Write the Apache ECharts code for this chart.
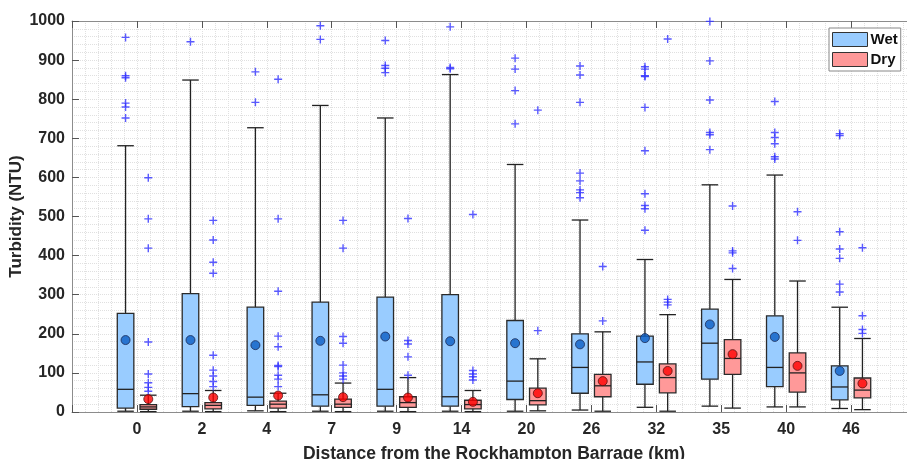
<!DOCTYPE html>
<html>
<head>
<meta charset="utf-8">
<script src="https://cdn.jsdelivr.net/npm/echarts@6/dist/echarts.min.js"></script>
<style>
  html, body { margin: 0; padding: 0; background: #fff; }
  #chart { width: 907px; height: 459px; }
</style>
</head>
<body>
<div id="chart"></div>
<script>
// distance categories (km)
const distances = ['0', '2', '4', '7', '9', '14', '20', '26', '32', '35', '40', '46']

// box stats: [lower whisker, q1, median, q3, upper whisker]
const wetBox = [
  [2, 10, 58, 252, 681], [2, 14, 47, 303, 849], [3, 17, 38, 268, 727], [2, 15, 44, 281, 784],
  [2, 15, 58, 294, 752], [2, 15, 39, 300, 863], [2, 32, 79, 234, 633], [5, 48, 114, 200, 491],
  [12, 71, 128, 194, 390], [15, 84, 176, 263, 581], [13, 65, 114, 246, 606], [9, 31, 64, 118, 268]
]
const dryBox = [
  [1, 7, 13, 19, 43], [1, 8, 17, 24, 55], [1, 10, 20, 28, 48], [1, 12, 20, 33, 74],
  [1, 12, 24, 39, 88], [1, 8, 19, 30, 55], [3, 18, 29, 61, 136], [2, 39, 67, 96, 205],
  [2, 49, 88, 123, 249], [10, 96, 137, 185, 339], [13, 51, 100, 151, 335], [6, 36, 56, 87, 188]
]

const wetMean = [184, 184, 171, 182, 193, 181, 176, 173, 189, 224, 192, 105]
const dryMean = [33, 37, 42, 38, 37, 26, 48, 79, 105, 148, 118, 73]

const wetOutliers = [
  [958, 860, 855, 790, 780, 752],
  [947],
  [870, 792],
  [988, 953],
  [950, 886, 879, 868],
  [985, 881, 878],
  [905, 877, 822, 737],
  [885, 862, 792, 611, 591, 568, 561, 548],
  [883, 877, 860, 858, 779, 668, 558, 528, 520, 465],
  [999, 898, 798, 715, 709, 671],
  [794, 715, 702, 686, 653, 647],
  [712, 707, 461, 417, 393, 327, 307]
]
const dryOutliers = [
  [599, 494, 419, 179, 97, 75, 63, 53],
  [490, 440, 383, 355, 145, 107, 92, 78, 65],
  [851, 494, 309, 194, 167, 119, 116, 94, 84, 65],
  [490, 419, 193, 176, 120, 100, 92, 84],
  [495, 183, 174, 141, 94],
  [505, 106, 97, 90, 82],
  [772, 208],
  [372, 233],
  [954, 288, 281, 274],
  [527, 412, 407, 367],
  [512, 439],
  [420, 246, 211, 201]
]

const WET_FILL = '#99ccff'
const DRY_FILL = '#ff9999'
const SHIFT = 0.175
const BOX_W = 0.255
const FONT = "'Liberation Sans', Arial, sans-serif"
const PLUS = 'path://M-0.7,-4 L0.7,-4 L0.7,-0.7 L4,-0.7 L4,0.7 L0.7,0.7 L0.7,4 L-0.7,4 L-0.7,0.7 L-4,0.7 L-4,-0.7 L-0.7,-0.7 Z'

const boxRenderer = (shift, fill) => (params, api) => {
  const x = api.value(0) + shift
  const [cx, yLo] = api.coord([x, api.value(1)])
  const yQ1 = api.coord([x, api.value(2)])[1]
  const yMed = api.coord([x, api.value(3)])[1]
  const yQ3 = api.coord([x, api.value(4)])[1]
  const yHi = api.coord([x, api.value(5)])[1]
  const w = api.size([BOX_W, 0])[0]
  const line = (x1, y1, x2, y2) => ({
    type: 'line',
    shape: { x1, y1, x2, y2 },
    style: { stroke: '#222', lineWidth: 1.3 }
  })
  return {
    type: 'group',
    children: [
      line(cx, yHi, cx, yQ3),
      line(cx, yQ1, cx, yLo),
      line(cx - w / 2, yHi, cx + w / 2, yHi),
      line(cx - w / 2, yLo, cx + w / 2, yLo),
      {
        type: 'rect',
        shape: { x: cx - w / 2, y: yQ3, width: w, height: yQ1 - yQ3 },
        style: { fill, stroke: '#2a2a2a', lineWidth: 1.3 }
      },
      line(cx - w / 2, yMed, cx + w / 2, yMed)
    ]
  }
}

const outlierPoints = (list, shift) =>
  list.flatMap((vals, i) => vals.map(v => [i + shift, v]))

const gridLine = { color: '#e0e0e0', type: 'dotted', width: 1 }

const chart = echarts.init(document.getElementById('chart'))

chart.setOption({
  animation: false,
  grid: { left: 72, right: -9, top: 21, bottom: 47, outerBoundsMode: 'none', containLabel: false },
  legend: {
    orient: 'vertical',
    left: 829,
    top: 28,
    padding: [4, 3, 4, 3],
    itemGap: 5,
    itemWidth: 35,
    itemHeight: 14,
    selectedMode: false,
    backgroundColor: '#fff',
    borderColor: '#888',
    borderWidth: 1,
    borderRadius: 0,
    textStyle: { fontFamily: FONT, fontWeight: 'bold', fontSize: 15, color: '#111', padding: [0, 0, 0, -2] },
    data: [
      { name: 'Wet', icon: 'rect', itemStyle: { color: WET_FILL, borderColor: '#333', borderWidth: 1 } },
      { name: 'Dry', icon: 'rect', itemStyle: { color: DRY_FILL, borderColor: '#333', borderWidth: 1 } }
    ]
  },
  xAxis: [
    {
      type: 'value',
      min: -1,
      max: 12,
      interval: 1,
      name: 'Distance from the Rockhampton Barrage (km)',
      nameLocation: 'middle',
      nameGap: 33,
      nameMoveOverlap: false,
      nameTextStyle: { fontFamily: FONT, fontWeight: 'bold', fontSize: 17.5, color: '#262626' },
      axisLine: { show: true, onZero: false, lineStyle: { color: '#8c8c8c', width: 1 } },
      axisTick: { inside: true, length: 7, lineStyle: { color: '#555' } },
      axisLabel: {
        formatter: v => distances[v] ?? '',
        fontFamily: FONT, fontWeight: 'bold', fontSize: 16, color: '#262626', margin: 10
      },
      splitLine: { show: true, lineStyle: gridLine },
      minorTick: { show: false, splitNumber: 5 },
      minorSplitLine: { show: true, lineStyle: gridLine }
    },
    {
      type: 'value',
      position: 'top',
      min: -1,
      max: 12,
      interval: 1,
      axisLine: { show: true, onZero: false, lineStyle: { color: '#8c8c8c', width: 1 } },
      axisTick: { inside: true, length: 7, lineStyle: { color: '#555' } },
      axisLabel: { show: false },
      splitLine: { show: false }
    }
  ],
  yAxis: {
    type: 'value',
    min: 0,
    max: 1000,
    interval: 100,
    name: 'Turbidity (NTU)',
    nameLocation: 'middle',
    nameGap: 47,
    nameMoveOverlap: false,
    nameTextStyle: { fontFamily: FONT, fontWeight: 'bold', fontSize: 17, color: '#262626' },
    axisLine: { show: true, onZero: false, lineStyle: { color: '#8c8c8c', width: 1 } },
    axisTick: { show: true, inside: true, length: 7, lineStyle: { color: '#555' } },
    axisLabel: {
      formatter: v => String(v),
      fontFamily: FONT, fontWeight: 'bold', fontSize: 16, color: '#262626', margin: 7
    },
    splitLine: { show: true, lineStyle: gridLine },
    minorTick: { show: false, splitNumber: 5 },
    minorSplitLine: { show: true, lineStyle: gridLine }
  },
  series: [
    {
      name: 'Wet',
      type: 'custom',
      itemStyle: { color: WET_FILL },
      renderItem: boxRenderer(-SHIFT, WET_FILL),
      encode: { x: 0, y: [1, 2, 3, 4, 5] },
      data: wetBox.map((b, i) => [i, ...b]),
      z: 2
    },
    {
      name: 'Dry',
      type: 'custom',
      itemStyle: { color: DRY_FILL },
      renderItem: boxRenderer(SHIFT, DRY_FILL),
      encode: { x: 0, y: [1, 2, 3, 4, 5] },
      data: dryBox.map((b, i) => [i, ...b]),
      z: 2
    },
    {
      name: 'Wet outliers',
      type: 'scatter',
      symbol: PLUS,
      symbolSize: 8,
      itemStyle: { color: '#2f2fff' },
      data: outlierPoints(wetOutliers, -SHIFT),
      z: 3
    },
    {
      name: 'Dry outliers',
      type: 'scatter',
      symbol: PLUS,
      symbolSize: 8,
      itemStyle: { color: '#2f2fff' },
      data: outlierPoints(dryOutliers, SHIFT),
      z: 3
    },
    {
      name: 'Wet mean',
      type: 'scatter',
      symbol: 'circle',
      symbolSize: 9,
      itemStyle: { color: '#0b5ec4', borderColor: '#1b2a55', borderWidth: 1 },
      data: wetMean.map((m, i) => [i - SHIFT, m]),
      z: 4
    },
    {
      name: 'Dry mean',
      type: 'scatter',
      symbol: 'circle',
      symbolSize: 9,
      itemStyle: { color: '#ff0000', borderColor: '#5a1010', borderWidth: 1 },
      data: dryMean.map((m, i) => [i + SHIFT, m]),
      z: 4
    }
  ]
})
</script>
</body>
</html>
